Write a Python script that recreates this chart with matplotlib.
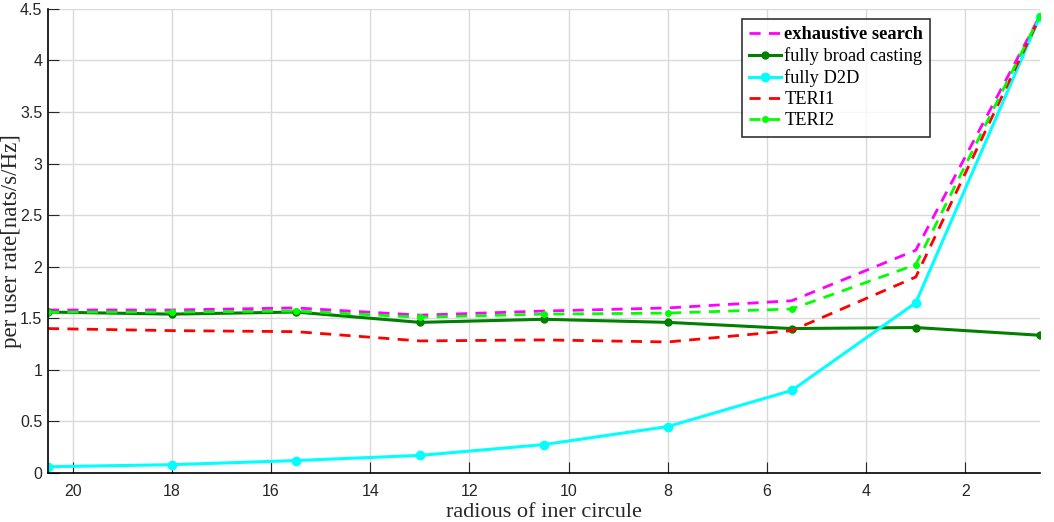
import matplotlib
matplotlib.use("Agg")
import matplotlib.pyplot as plt

# radius of inner circle (x axis runs right-to-left)
radius = [20.5, 18, 15.5, 13, 10.5, 8, 5.5, 3, 0.5]

exhaustive = [1.58, 1.58, 1.60, 1.53, 1.57, 1.60, 1.67, 2.16, 4.43]
broadcast = [1.56, 1.54, 1.56, 1.46, 1.49, 1.46, 1.40, 1.41, 1.335]
d2d = [0.06, 0.08, 0.12, 0.17, 0.275, 0.45, 0.80, 1.65, 4.42]
teri1 = [1.40, 1.38, 1.37, 1.28, 1.29, 1.27, 1.38, 1.90, 4.42]
teri2 = [1.56, 1.56, 1.57, 1.51, 1.54, 1.55, 1.59, 2.02, 4.43]

xticks = [20, 18, 16, 14, 12, 10, 8, 6, 4, 2]
yticks = [0, 0.5, 1, 1.5, 2, 2.5, 3, 3.5, 4, 4.5]

fig = plt.figure(figsize=(10.54, 5.22), dpi=100)
ax = fig.add_axes([0.0455, 0.094, 0.941, 0.889])

ax.plot(radius, exhaustive, color="#ff00ff", linestyle=(0, (4, 3)), linewidth=2,
        label="exhaustive search")
ax.plot(radius, broadcast, color="#007f00", linestyle="-", linewidth=2.2,
        marker="o", markersize=5, markerfacecolor="#007f00", label="fully broad casting")
ax.plot(radius, d2d, color="#00ffff", linestyle="-", linewidth=2.2,
        marker="o", markersize=6, label="fully D2D")
ax.plot(radius, teri1, color="#ff0000", linestyle=(0, (4, 3)), linewidth=2,
        label="TERI1")
ax.plot(radius, teri2, color="#00ff00", linestyle=(0, (4, 3)), linewidth=2,
        marker="o", markersize=4, label="TERI2")

ax.set_xlim(20.5, 0.5)
ax.set_ylim(0, 4.5)
ax.set_xticks(xticks)
ax.set_yticks(yticks)
ax.set_yticklabels(["0", "0.5", "1", "1.5", "2", "2.5", "3", "3.5", "4", "4.5"])
ax.tick_params(direction="in", length=8, labelsize=11.5, labelcolor="#262626",
               colors="#262626")
for lab in ax.get_xticklabels() + ax.get_yticklabels():
    lab.set_fontfamily("Liberation Sans")
ax.tick_params(axis="x", pad=8)
ax.tick_params(axis="y", pad=4)
ax.grid(True, color="#d9d9d9", linewidth=1)
ax.set_axisbelow(True)
ax.spines["top"].set_visible(False)
ax.spines["right"].set_visible(False)
ax.spines["left"].set_linewidth(1.2)
ax.spines["bottom"].set_linewidth(1.2)

ax.set_xlabel("radious of iner circule", family="Liberation Serif", fontsize=16,
              color="#262626", labelpad=3)
ax.set_ylabel("per user rate[nats/s/Hz]", family="Liberation Serif", fontsize=16.5,
              color="#262626")
ax.yaxis.set_label_coords(-0.026, 0.5)

leg = ax.legend(loc="upper left", bbox_to_anchor=(742 / 1054, 1 - 19 / 522),
                bbox_transform=fig.transFigure, prop={"family": "Liberation Serif", "size": 13.2},
                frameon=True, fancybox=False, handlelength=1.7, handletextpad=0.2,
                borderpad=0.4, labelspacing=0.22, borderaxespad=0)
leg.get_frame().set_edgecolor("black")
leg.get_frame().set_linewidth(1.2)
leg.get_texts()[0].set_fontweight("bold")

fig.savefig("out.png", dpi=100)
